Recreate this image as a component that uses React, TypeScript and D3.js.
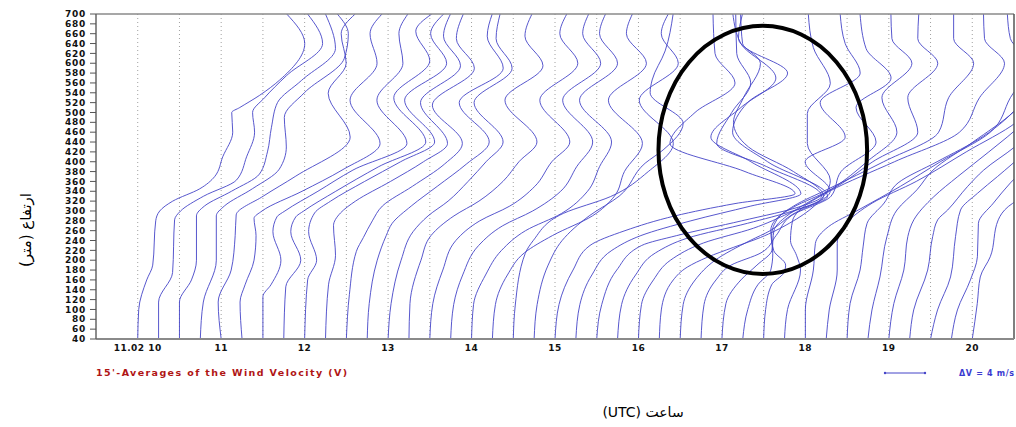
import React from "react";
import * as d3 from "d3";

const heightTicks = [40, 60, 80, 100, 120, 140, 160, 180, 200, 220, 240, 260, 280, 300, 320, 340, 360, 380, 400, 420, 440, 460, 480, 500, 520, 540, 560, 580, 600, 620, 640, 660, 680, 700];
const hourTicks = [10, 11, 12, 13, 14, 15, 16, 17, 18, 19, 20];
const hourLabels = ["11.02 10", "11", "12", "13", "14", "15", "16", "17", "18", "19", "20"];
const gridHours = [10, 10.5, 11, 11.5, 12, 12.5, 13, 13.5, 14, 14.5, 15, 15.5, 16, 16.5, 17, 17.5, 18, 18.5, 19, 19.5, 20];
const profileTimes = [10, 10.25, 10.5, 10.75, 11, 11.25, 11.5, 11.75, 12, 12.25, 12.5, 12.75, 13, 13.25, 13.5, 13.75, 14, 14.25, 14.5, 14.75, 15, 15.25, 15.5, 15.75, 16, 16.25, 16.5, 16.75, 17, 17.25, 17.5, 17.75, 18, 18.25, 18.5, 18.75, 19, 19.25, 19.5, 19.75, 20];

// each profile: [height (m), velocity offset from the 40 m value (m/s)]
const profiles: [number, number][][] = [
  [[40,0],[100,0.1],[160,0.9],[190,1.5],[280,1.8],[300,2.2],[320,3.5],[345,6.2],[370,7.7],[410,8.5],[460,9.5],[500,9.4],[510,10.2],[535,12.2],[566,14.2],[640,16.7],[700,14.9]],
  [[40,0],[115,0],[175,1.4],[282,1.6],[300,2.2],[330,4.5],[363,7.8],[410,8.8],[460,9.6],[500,9.4],[530,10.6],[575,12.8],[640,16.4],[700,14.9]],
  [[40,0],[115,0],[160,1.2],[200,1.7],[290,1.7],[310,2.5],[340,5.2],[375,8.0],[420,8.8],[470,9.2],[520,9.8],[565,12.2],[630,15.6],[700,14.6]],
  [[40,0],[115,0.3],[200,1.6],[290,1.6],[310,2.4],[345,5.2],[385,7.9],[430,8.6],[490,8.4],[540,10.4],[610,14.4],[660,14.8],[700,13.7]],
  [[40,0],[115,-0.3],[180,1.0],[250,1.4],[292,1.5],[330,4.2],[370,7.4],[450,12.9],[539,10.7],[600,12.5],[660,12.0],[700,13.4]],
  [[40,0],[115,-0.2],[150,0.3],[200,1.2],[250,1.4],[285,1.2],[300,2.0],[340,6.0],[383,10.0],[437,13.8],[525,10.8],[600,13.5],[660,12.8],[700,14.0]],
  [[40,0],[126,0],[150,0.8],[200,1.8],[258,1.0],[288,1.4],[300,2.2],[340,5.5],[383,9.0],[437,14.4],[525,11.4],[600,14.0],[660,13.6],[700,14.5]],
  [[40,0],[146,0.2],[200,1.7],[258,0.7],[288,1.2],[300,2.0],[340,5.2],[390,9.5],[440,14.2],[530,11.0],[605,14.6],[665,13.2],[700,14.8]],
  [[40,0],[160,0.3],[200,1.2],[258,0.4],[296,1.0],[320,2.6],[360,6.0],[400,9.6],[440,13.0],[525,10.0],[600,14.2],[660,12.6],[700,13.9]],
  [[40,0],[150,0.3],[210,1.0],[270,0.8],[296,1.5],[320,3.0],[360,6.5],[400,9.8],[437,12.2],[520,9.5],[595,13.5],[655,11.8],[700,12.5]],
  [[40,0],[130,0.3],[218,1.0],[246,1.7],[280,2.6],[310,3.6],[350,6.6],[395,9.8],[437,11.6],[515,8.6],[590,12.8],[650,11.0],[700,11.7]],
  [[40,0],[112,0.2],[200,1.0],[250,1.9],[275,2.5],[310,4.4],[350,7.0],[395,9.9],[440,12.2],[520,9.2],[590,13.6],[655,12.0],[700,12.5]],
  [[40,0],[112,0.3],[200,1.3],[258,2.5],[290,4.0],[320,6.0],[360,8.0],[400,9.8],[440,11.5],[520,8.6],[590,12.4],[650,10.8],[700,11.2]],
  [[40,0],[112,0.1],[200,1.2],[250,2.2],[290,4.5],[320,7.0],[360,9.4],[400,11.0],[440,12.8],[525,9.6],[595,13.4],[655,11.6],[700,12.3]],
  [[40,0],[112,0.3],[180,1.3],[240,2.6],[280,5.0],[310,8.0],[350,10.5],[400,12.2],[440,14.0],[525,11.0],[600,14.8],[660,13.0],[700,13.7]],
  [[40,0],[110,0.3],[170,1.2],[230,2.8],[270,5.2],[300,8.2],[340,11.0],[390,12.6],[440,14.2],[525,11.2],[600,15.0],[660,13.2],[700,13.8]],
  [[40,0],[110,0.2],[170,1.4],[220,3.0],[260,5.4],[295,9.0],[340,11.6],[390,12.8],[440,14.0],[525,10.8],[600,14.6],[660,12.8],[700,13.4]],
  [[40,0],[110,0.3],[170,1.5],[215,3.2],[250,6.0],[290,10.0],[330,12.2],[380,13.2],[437,15.0],[525,11.6],[600,15.4],[660,13.4],[700,14.0]],
  [[40,0],[109,0.2],[214,1.2],[240,2.0],[295,5.0],[329,9.7],[380,13.5],[437,16.0],[525,12.6],[600,16.5],[660,14.8],[700,15.5]],
  [[40,0],[110,0.3],[190,1.4],[240,2.8],[290,5.5],[330,8.5],[397,11.1],[424,12.9],[478,14.9],[540,11.6],[566,11.8],[625,13.1],[700,13.9]],
  [[40,0],[110,0.4],[180,1.8],[230,3.5],[260,7.0],[290,12.0],[315,18.0],[335,24.0],[380,19.0],[437,11.5],[500,14.0],[560,18.0],[620,16.0],[700,15.8]],
  [[40,0],[110,0.4],[170,1.6],[220,3.6],[250,6.5],[280,11.5],[310,17.5],[335,22.5],[400,17.5],[450,13.5],[510,16.5],[570,20.0],[640,16.5],[700,15.7]],
  [[40,0],[110,0.5],[180,2.0],[230,4.5],[250,8.0],[280,14.5],[310,20.5],[330,22.5],[390,17.0],[437,12.0],[500,13.5],[560,15.4],[620,14.0],[700,13.9]],
  [[40,0],[110,0.4],[170,1.8],[215,3.8],[245,7.0],[275,13.0],[300,17.5],[330,21.0],[400,15.0],[460,11.5],[520,13.0],[580,17.0],[640,12.5],[700,12.3]],
  [[40,0],[110,0.3],[160,1.5],[200,3.2],[235,6.5],[265,11.5],[295,15.0],[330,18.5],[380,15.5],[430,11.0],[480,9.5],[530,10.5],[600,12.2],[650,10.0],[700,10.4]],
  [[40,0],[99,0.2],[160,1.4],[186,2.8],[206,4.8],[226,7.4],[246,10.1],[275,13.0],[310,15.5],[362,17.1],[437,14.8],[498,14.8],[559,17.1],[632,15.4],[700,14.9]],
  [[40,0],[110,0.3],[160,1.5],[200,3.5],[240,7.0],[260,9.0],[290,11.0],[340,15.0],[400,12.5],[450,16.5],[520,14.0],[580,18.0],[640,16.5],[700,16.0]],
  [[40,0],[110,0.3],[160,1.5],[190,3.0],[215,6.0],[250,7.5],[290,9.0],[330,13.0],[380,14.0],[440,17.5],[510,15.5],[570,19.0],[630,16.5],[700,15.9]],
  [[40,0],[112,0.4],[160,1.9],[190,3.5],[220,5.0],[260,5.2],[290,6.5],[310,8.0],[345,11.0],[400,14.5],[460,17.5],[530,16.0],[600,19.0],[650,17.0],[700,16.9]],
  [[40,0],[100,0.5],[150,1.5],[180,2.8],[213,3.0],[260,2.8],[287,3.5],[307,5.0],[343,8.8],[400,13.0],[460,17.5],[530,16.5],[600,19.5],[650,17.5],[700,17.6]],
  [[40,0],[100,0.2],[150,0.8],[174,2.0],[190,2.2],[220,1.0],[250,0.8],[287,1.5],[310,3.0],[345,6.5],[400,12.0],[460,17.5],[530,18.5],[600,21.0],[650,19.0],[700,19.0]],
  [[40,0],[100,0.3],[180,1.6],[210,1.2],[240,0.6],[280,0.8],[310,2.0],[340,4.5],[400,11.0],[460,17.5],[530,19.5],[600,22.0],[650,20.0],[700,19.9]],
  [[40,0],[99,0],[180,0.8],[234,1.0],[268,2.3],[302,5.3],[350,9.5],[400,13.5],[460,18.5],[530,20.5],[600,22.5],[650,20.5],[700,20.2]],
  [[40,0],[99,0.3],[180,1.1],[234,1.1],[275,2.0],[316,4.6],[360,9.0],[420,14.0],[480,19.0],[560,22.0],[640,24.0],[700,23.0]],
  [[40,0],[112,0.3],[180,1.3],[227,1.6],[275,2.0],[316,3.7],[357,5.1],[400,9.0],[450,13.5],[520,17.5],[600,20.0],[700,21.0]],
  [[40,0],[99,0.4],[166,1.2],[248,1.9],[302,2.9],[343,4.9],[383,6.5],[440,10.5],[500,14.5],[580,17.5],[700,19.0]],
  [[40,0],[112,0.5],[180,1.5],[248,1.9],[282,2.5],[329,4.5],[370,6.9],[420,10.0],[480,13.5],[560,16.5],[700,18.0]],
  [[40,0],[99,0.4],[180,1.8],[248,2.3],[282,2.8],[302,3.8],[350,5.8],[383,7.4],[430,10.5],[500,14.0],[700,18.0]],
  [[40,0],[99,0.7],[166,2.0],[248,2.5],[302,3.0],[336,4.7],[370,6.7],[420,9.5],[500,13.0],[700,17.0]],
  [[40,0],[99,0.6],[160,1.9],[207,2.6],[275,2.7],[316,4.2],[357,5.9],[420,9.0],[700,15.0]],
  [[40,0],[112,0.5],[166,0.8],[207,1.8],[282,2.6],[309,3.6],[322,4.5],[400,8.0],[700,14.0]],
];

const legendDeltaV = 4; // m/s
const highlightCenter = { t: 17.49, h: 424 };
const highlightRadius = { dt: 1.25, dh: 252 };

export default function App() {
  const x = d3.scaleLinear().domain([9.5, 20.5]).range([96, 1014]);
  const y = d3.scaleLinear().domain([40, 700]).range([339, 14]);
  const v = d3.scaleLinear().domain([0, legendDeltaV]).range([0, 40]);

  const [x0, x1] = x.range();
  const [yb, yt] = y.range();

  const cx = x(highlightCenter.t);
  const cy = y(highlightCenter.h);
  const rx = x(highlightCenter.t + highlightRadius.dt) - cx;
  const ry = cy - y(highlightCenter.h + highlightRadius.dh);

  const tickFont = "'DejaVu Sans', sans-serif";
  const legendX = 885;

  return (
    <svg width={1016} height={427} style={{ position: "absolute", left: 0, top: 0, background: "#fff" }}>
      <defs>
        <clipPath id="plotClip">
          <rect x={x0} y={yt} width={x1 - x0} height={yb - yt} />
        </clipPath>
      </defs>
      <rect x={0} y={0} width={1016} height={427} fill="#fff" />
      {gridHours.map((g) => (
        <line key={"g" + g} x1={x(g)} x2={x(g)} y1={yt} y2={yb} stroke="#a0a0a0" strokeWidth={1} strokeDasharray="1,3" />
      ))}
      <g clipPath="url(#plotClip)">
        {profiles.map((p, i) => {
          const base = x(profileTimes[i]);
          const line = d3
            .line<[number, number]>()
            .x((d) => base + v(d[1]))
            .y((d) => y(d[0]))
            .curve(d3.curveMonotoneY);
          return <path key={"p" + i} d={line(p) || ""} fill="none" stroke="#4545c8" strokeWidth={1} strokeOpacity={0.9} />;
        })}
      </g>
      <line x1={x0} x2={x1} y1={yt} y2={yt} stroke="#8a8a8a" strokeWidth={1.5} />
      <line x1={x1} x2={x1} y1={yt} y2={yb} stroke="#555" strokeWidth={1.5} />
      <line x1={x0} x2={x1} y1={yb} y2={yb} stroke="#8a8a8a" strokeWidth={2} />
      <line x1={x0} x2={x0} y1={yt} y2={yb} stroke="#666" strokeWidth={1.5} />
      {heightTicks.map((h) => (
        <g key={"h" + h}>
          <line x1={x0 - 6} x2={x0} y1={y(h)} y2={y(h)} stroke="#555" strokeWidth={1} />
          <text x={x0 - 10} y={y(h)} dy="0.35em" textAnchor="end" fontFamily={tickFont} fontWeight="bold" fontSize={9} letterSpacing={0.7} fill="#111">
            {h}
          </text>
        </g>
      ))}
      {hourTicks.map((t, i) => (
        <text key={"t" + t} x={x(t)} y={351} textAnchor="middle" fontFamily={tickFont} fontWeight="bold" fontSize={9} letterSpacing={0.5} fill="#111">
          {hourLabels[i]}
        </text>
      ))}
      <text x={x0} y={376} fontFamily={tickFont} fontWeight="bold" fontSize={9.5} fill="#b01515" textLength={251} lengthAdjust="spacing">
        15'-Averages of the Wind Velocity (V)
      </text>
      <line x1={legendX} x2={legendX + v(legendDeltaV)} y1={373} y2={373} stroke="#4545c8" strokeWidth={1} />
      <circle cx={legendX} cy={373} r={1.2} fill="#4545c8" />
      <circle cx={legendX + v(legendDeltaV)} cy={373} r={1.2} fill="#4545c8" />
      <text x={959} y={376} fontFamily={tickFont} fontWeight="bold" fontSize={8} fill="#3a3ad0" textLength={55} lengthAdjust="spacing">
        ΔV = 4 m/s
      </text>
      <ellipse cx={cx} cy={cy} rx={rx} ry={ry} fill="none" stroke="#000" strokeWidth={4} />
      <text x={643} y={417} textAnchor="middle" direction="rtl" fontFamily="'DejaVu Sans', sans-serif" fontSize={14} fill="#000">
        ساعت (UTC)
      </text>
      <text transform="translate(26,230) rotate(-90)" textAnchor="middle" direction="rtl" fontFamily="'DejaVu Sans', sans-serif" fontSize={15} fill="#000" dy="0.35em">
        ارتفاع (متر)
      </text>
    </svg>
  );
}
